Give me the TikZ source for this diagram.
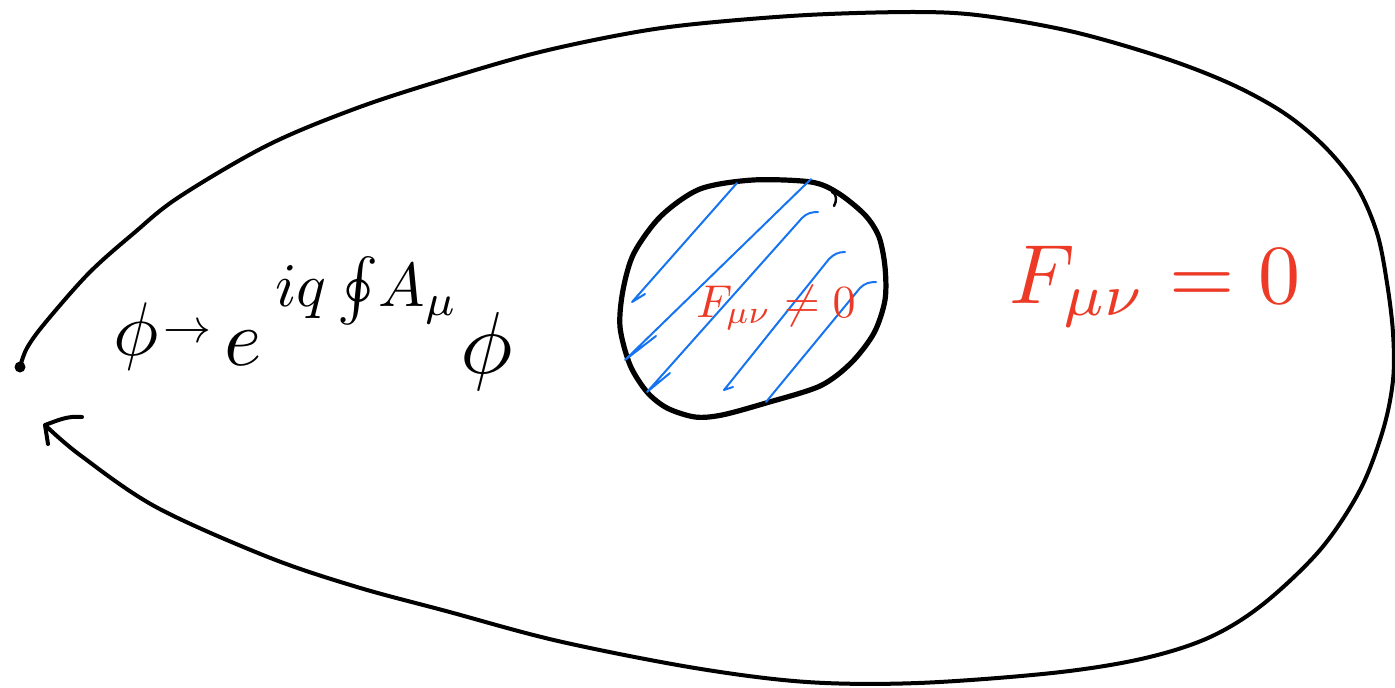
\documentclass[tikz,border=0pt]{standalone}
\usepackage{amsmath}
\definecolor{inkred}{RGB}{236,58,38}
\definecolor{inkblue}{RGB}{22,116,240}
\tikzset{
  ink/.style={draw=black, line width=2pt, line cap=round, line join=round},
  thickink/.style={draw=black, line width=2.6pt, line cap=round, line join=round},
  hatch/.style={draw=inkblue, line width=1pt, line cap=round, line join=round},
  blacktext/.style={text=black, inner sep=0pt, anchor=base west},
  redtext/.style={text=inkred, inner sep=0pt, anchor=base}
}
\begin{document}
\begin{tikzpicture}[x=0.5pt,y=-0.5pt]
\useasboundingbox (0,0) rectangle (1395,687);
% start point
\node[circle, fill=black, inner sep=0pt, minimum size=5.5pt] (p) at (20,367) {};
\coordinate (tip) at (45,425);
\coordinate (armA) at (82,417);
\coordinate (armB) at (48,444);
% outer loop
\draw[ink] plot[smooth, tension=0.55] coordinates {
 (45,425) (80,455) (156,507) (268,557) (357,587) (446,611) (558,641)
 (695,668) (807,682) (918,683) (1052,673) (1141,659) (1208,638) (1262,605)
 (1320,550) (1360,490) (1383,430) (1393,380) (1393,333) (1387,283)
 (1377,233) (1357,187) (1325,147) (1284,113) (1231,84) (1164,58) (1074,32)
 (985,16) (918,12) (807,15) (695,24) (625,34) (536,53) (446,79) (357,108)
 (268,145) (179,197) (134,233) (89,273) (45,323) (27,348) (20,367)};
\draw[ink] (armA) to[out=175,in=20] (tip) -- (armB);
% inner region
\draw[thickink] plot[smooth cycle, tension=0.5] coordinates {
 (700,189) (753,180) (811,182) (838,193) (865,215) (879,237) (885,267)
 (885,300) (874,333) (851,363) (820,386) (766,403) (722,415) (695,417)
 (667,408) (647,392) (630,365) (620,327) (623,290) (634,253) (661,216)};
\draw[ink, line width=1.2pt] (832,192) to[out=-20,in=60] (834,206);
% hatching
\draw[hatch] (645,294) -- (632,302) -- (737,183);
\draw[hatch] (656,336) -- (625,360) -- (811,179);
\draw[hatch] (670,373) -- (647,392) -- (802,218) to[out=45,in=180] (818,212);
\draw[hatch] (733,387) -- (724,390) -- (829,259) to[out=45,in=180] (845,252);
\draw[hatch] (766,402) -- (860,288) to[out=45,in=180] (876,282);
% red labels
\node[redtext] (fin) at (776,317) {\scalebox{2.3}{$F_{\mu\nu}\neq 0$}};
\node[redtext] (fout) at (1155,303) {\scalebox{4.2}{$F_{\mu\nu} = 0$}};
% black formula
\node[blacktext] (phi1) at (113,355) {\scalebox{3.8}{$\phi$}};
\node[blacktext] (arr) at (163,342) {\scalebox{2.4}{$\to$}};
\node[blacktext] (e) at (224,365) {\scalebox{4.0}{$e$}};
\node[blacktext] (ex) at (275,306) {\scalebox{3.1}{$iq\oint\! A_\mu$}};
\node[blacktext] (phi2) at (460,373) {\scalebox{4.4}{$\phi$}};
\end{tikzpicture}
\end{document}
